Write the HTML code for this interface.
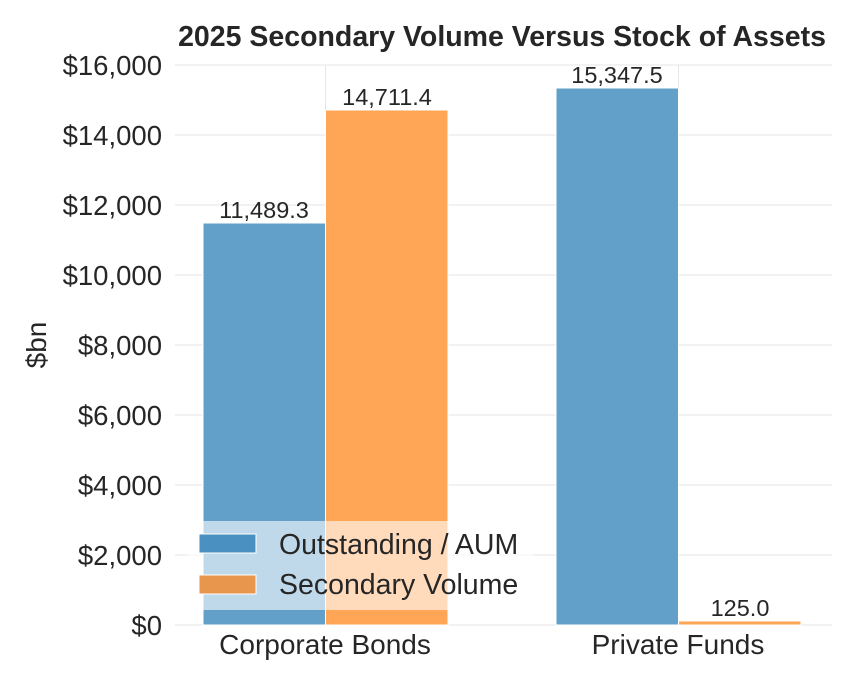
<!DOCTYPE html>
<html><head><meta charset="utf-8"><style>
body{margin:0;background:#fff}
svg text{font-family:"Liberation Sans",Arial,sans-serif;fill:#262626}
</style></head><body>
<svg width="857" height="685" xmlns="http://www.w3.org/2000/svg">
<g stroke="#e6e6e6" stroke-width="1">
<line x1="175" x2="832" y1="625" y2="625"/>
<line x1="175" x2="832" y1="555" y2="555"/>
<line x1="175" x2="832" y1="485" y2="485"/>
<line x1="175" x2="832" y1="415" y2="415"/>
<line x1="175" x2="832" y1="345" y2="345"/>
<line x1="175" x2="832" y1="275" y2="275"/>
<line x1="175" x2="832" y1="205" y2="205"/>
<line x1="175" x2="832" y1="135" y2="135"/>
<line x1="175" x2="832" y1="65" y2="65"/>
<line x1="325.5" x2="325.5" y1="65" y2="625"/>
<line x1="678.5" x2="678.5" y1="65" y2="625"/>
</g>
<g stroke="#fff" stroke-width="1">
<rect x="203" y="223" width="122.5" height="402" fill="#62a0ca"/>
<rect x="325.5" y="110" width="122.5" height="515" fill="#ffa556"/>
<rect x="556" y="88" width="122.5" height="537" fill="#62a0ca"/>
<rect x="678.5" y="621" width="122.5" height="4" fill="#ffa556"/>
</g>
<g font-size="23.5" text-anchor="middle">
<text x="264" y="218">11,489.3</text>
<text x="387" y="105">14,711.4</text>
<text x="617" y="83">15,347.5</text>
<text x="740" y="616">125.0</text>
</g>
<rect x="188" y="521" width="345" height="89" fill="#fff" fill-opacity="0.6"/>
<rect x="199" y="534" width="57" height="19" fill="#4a90c0" stroke="#fff"/>
<rect x="199" y="575" width="57" height="19" fill="#e8964e" stroke="#fff"/>
<g font-size="28.5">
<text x="279" y="554">Outstanding / AUM</text>
<text x="279" y="594">Secondary Volume</text>
</g>
<g font-size="27.5" text-anchor="end">
<text x="162" y="635">$0</text>
<text x="162" y="565">$2,000</text>
<text x="162" y="495">$4,000</text>
<text x="162" y="425">$6,000</text>
<text x="162" y="355">$8,000</text>
<text x="162" y="285">$10,000</text>
<text x="162" y="215">$12,000</text>
<text x="162" y="145">$14,000</text>
<text x="162" y="75">$16,000</text>
</g>
<g font-size="28" text-anchor="middle">
<text x="325" y="654">Corporate Bonds</text>
<text x="678" y="654">Private Funds</text>
<text transform="translate(46,345) rotate(-90)">$bn</text>
</g>
<text x="502" y="46" font-size="28.5" font-weight="bold" text-anchor="middle">2025 Secondary Volume Versus Stock of Assets</text>
</svg>
</body></html>
